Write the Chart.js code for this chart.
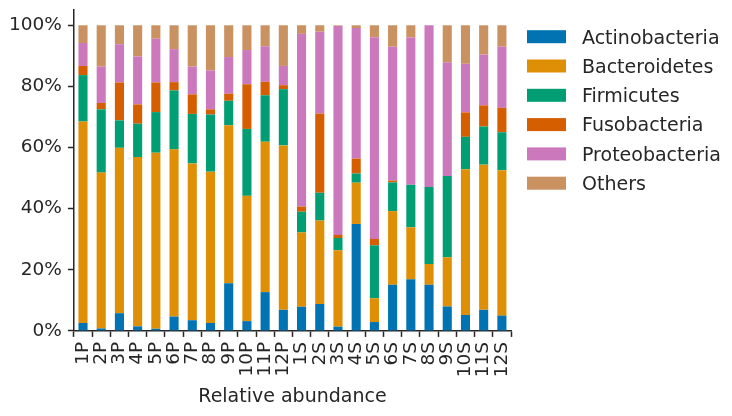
<!DOCTYPE html>
<html>
<head>
<meta charset="utf-8">
<script src="https://cdn.jsdelivr.net/npm/chart.js@4/dist/chart.umd.min.js"></script>
<style>
  html, body { margin: 0; padding: 0; background: #fff; }
  #wrap { width: 732px; height: 416px; position: relative; }
</style>
</head>
<body>
<div id="wrap"><canvas id="abundanceChart"></canvas></div>
<script>
const samples = ["1P", "2P", "3P", "4P", "5P", "6P", "7P", "8P", "9P", "10P", "11P", "12P",
  "1S", "2S", "3S", "4S", "5S", "6S", "7S", "8S", "9S", "10S", "11S", "12S"];

const actinobacteria = [2.6, 0.8, 5.8, 1.5, 0.7, 4.7, 3.5, 2.6, 15.6, 3.2, 12.7, 6.9,
  7.9, 8.8, 1.4, 35.0, 2.9, 15.1, 16.9, 15.1, 8.0, 5.2, 6.9, 5.0];
const bacteroidetes = [65.9, 51.0, 54.1, 55.4, 57.6, 54.7, 51.3, 49.5, 51.7, 41.0, 49.2, 53.8,
  24.3, 27.3, 25.0, 13.5, 7.8, 24.1, 17.0, 6.8, 16.1, 47.7, 47.5, 47.6];
const firmicutes = [15.2, 20.7, 9.0, 10.9, 13.3, 19.3, 16.2, 18.7, 8.0, 21.9, 15.2, 18.4,
  6.8, 9.1, 4.0, 3.0, 17.3, 9.4, 13.9, 25.2, 26.6, 10.6, 12.5, 12.4];
const fusobacteria = [3.0, 2.1, 12.4, 6.3, 9.7, 2.7, 6.4, 1.7, 2.3, 14.6, 4.4, 1.3,
  1.7, 25.9, 1.0, 4.9, 2.1, 0.6, 0, 0, 0, 8.0, 6.9, 8.0];
const proteobacteria = [7.5, 11.9, 12.5, 15.7, 14.3, 10.8, 9.1, 12.7, 12.0, 11.2, 11.6, 6.3,
  56.5, 26.8, 68.4, 42.7, 66.0, 43.8, 48.2, 52.9, 37.2, 15.9, 16.6, 20.0];
const others = [5.8, 13.5, 6.2, 10.2, 4.4, 7.8, 13.5, 14.8, 10.4, 8.1, 6.9, 13.3,
  2.8, 2.1, 0.2, 0.9, 3.9, 7.0, 4.0, 0, 12.1, 12.6, 9.6, 7.0];

const yTicks = [0, 20, 40, 60, 80, 100];

const phyla = ["Actinobacteria", "Bacteroidetes", "Firmicutes", "Fusobacteria", "Proteobacteria", "Others"];
const colors = ["#0173b2", "#de8f05", "#029e73", "#d55e00", "#cc78bc", "#ca9161"];
const series = [actinobacteria, bacteroidetes, firmicutes, fusobacteria, proteobacteria, others];

const textColor = "#262626";
const fontFamily = "'DejaVu Sans', sans-serif";

// legend drawn by hand so the spacing matches the figure
const sideLegend = {
  id: "sideLegend",
  afterDraw(chart) {
    const ctx = chart.ctx;
    ctx.save();
    ctx.font = "19px " + fontFamily;
    ctx.textBaseline = "alphabetic";
    ctx.textAlign = "left";
    chart.data.datasets.forEach((ds, i) => {
      const cy = 36.7 + i * 29.3;
      ctx.fillStyle = ds.backgroundColor;
      ctx.fillRect(527, cy - 6.5, 39, 13);
      ctx.fillStyle = textColor;
      ctx.fillText(ds.label, 582, cy + 6.8);
    });
    ctx.restore();
  },
};

new Chart(document.getElementById("abundanceChart"), {
  type: "bar",
  data: {
    labels: samples,
    datasets: phyla.map((name, i) => ({
      label: name,
      data: series[i],
      backgroundColor: colors[i],
      borderWidth: 0,
      barPercentage: 0.5,
      categoryPercentage: 1.0,
    })),
  },
  options: {
    responsive: true,
    maintainAspectRatio: false,
    animation: false,
    layout: { padding: { left: 3, right: 221, top: 10, bottom: 8 } },
    plugins: {
      legend: { display: false },
      tooltip: { enabled: false },
    },
    scales: {
      x: {
        stacked: true,
        offset: true,
        grid: { drawOnChartArea: false, drawTicks: true, tickLength: 6, tickWidth: 1.5, color: textColor },
        border: { display: true, color: textColor, width: 1.5 },
        ticks: {
          color: textColor,
          font: { family: fontFamily, size: 18.5 },
          minRotation: 90,
          maxRotation: 90,
          autoSkip: false,
          padding: 5,
        },
        title: {
          display: true,
          text: "Relative abundance",
          color: textColor,
          font: { family: fontFamily, size: 19 },
          padding: { top: 3, bottom: 0 },
        },
      },
      y: {
        stacked: true,
        min: 0,
        max: 105,
        afterBuildTicks: (scale) => {
          scale.ticks = yTicks.map((v) => ({ value: v }));
        },
        afterFit: (scale) => {
          scale.paddingTop = 0;
          scale.paddingBottom = 0;
        },
        grid: { drawOnChartArea: false, drawTicks: true, tickLength: 6, tickWidth: 1.5, color: textColor },
        border: { display: true, color: textColor, width: 1.5 },
        ticks: {
          color: textColor,
          font: { family: fontFamily, size: 18.5 },
          padding: 6,
          callback: (v) => `${v}%`,
        },
      },
    },
  },
  plugins: [sideLegend],
});
</script>
</body>
</html>
